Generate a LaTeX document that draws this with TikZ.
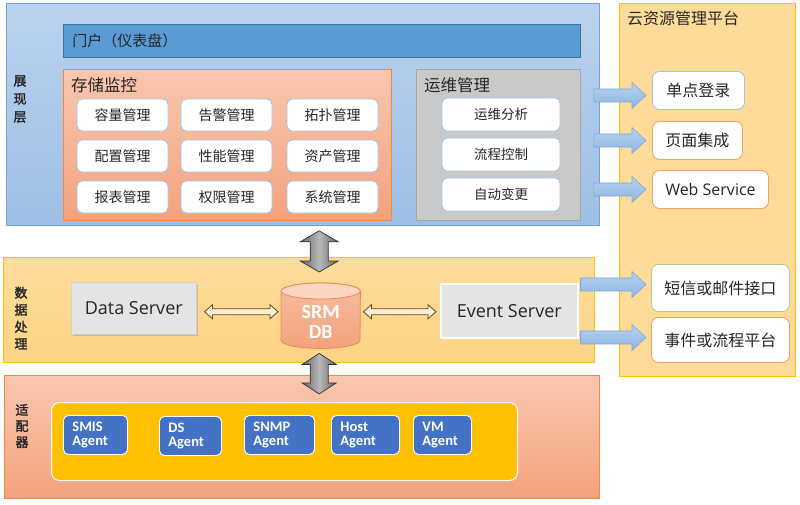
\documentclass[tikz,border=0pt]{standalone}
\usepackage{fontspec}
\setmainfont{Noto Sans CJK SC}
\newfontfamily\cjkbold[FakeBold=2]{Noto Sans CJK SC}
\newfontfamily\latinfont{Open Sans}
\newfontfamily\calfont{Carlito}
\usetikzlibrary{arrows.meta,calc,shadows}

\definecolor{txt}{HTML}{262626}
\definecolor{topA}{HTML}{BAD2ED}
\definecolor{topB}{HTML}{9EBFE6}
\definecolor{topBorder}{HTML}{6FA3DB}
\definecolor{portal}{HTML}{5B9BD5}
\definecolor{portalB}{HTML}{41719C}
\definecolor{salA}{HTML}{F8C7AF}
\definecolor{salB}{HTML}{F4A27D}
\definecolor{salBorder}{HTML}{F08A4B}
\definecolor{grayBox}{HTML}{C9C9C9}
\definecolor{grayBorder}{HTML}{A6A6A6}
\definecolor{yelA}{HTML}{FEDC9B}
\definecolor{yelB}{HTML}{FDD485}
\definecolor{yelBorder}{HTML}{FFC000}
\definecolor{agentBlue}{HTML}{4472C4}
\definecolor{innerBorder}{HTML}{9DC3E6}
\definecolor{orangeBorder}{HTML}{F4A06A}
\definecolor{greenBorder}{HTML}{A9D18E}
\definecolor{serverFill}{HTML}{E4E4E4}
\definecolor{arrowBlueA}{HTML}{B7D2EF}
\definecolor{arrowBlueB}{HTML}{8FB6E3}
\definecolor{arrowBlueBorder}{HTML}{7AA7DA}
\definecolor{brownArrow}{HTML}{5E4B1E}

\newcommand{\fsz}[1]{\fontsize{#1}{#1}\selectfont}

\tikzset{
  every node/.style={inner sep=0pt, text=txt},
  region/.style={draw, line width=0.8pt, anchor=north west},
  toplayer/.style={region, draw=topBorder, top color=topA, bottom color=topB},
  midlayer/.style={region, draw=yelBorder, top color=yelA, bottom color=yelB},
  botlayer/.style={region, draw=salBorder, top color=salA, bottom color=salB},
  sidelabel/.style={font=\cjkbold\fontsize{13}{18}\selectfont, align=center},
  portalbar/.style={region, draw=portalB, fill=portal, minimum width=517pt, minimum height=33pt,
     text width=499pt, inner xsep=9pt, align=left, font=\fsz{15}},
  salbox/.style={region, draw=salBorder, top color=salA, bottom color=salB},
  graybox/.style={region, draw=grayBorder, fill=grayBox},
  boxtitle/.style={anchor=west, font=\fsz{16.5}},
  smallbox/.style={draw=innerBorder, line width=0.9pt, fill=white, rounded corners=5pt,
     minimum width=91pt, minimum height=32pt, font=\fsz{14}},
  opsbox/.style={draw=innerBorder, line width=0.9pt, fill=white, rounded corners=5pt,
     minimum width=118pt, minimum height=33pt, font=\fsz{13.5}},
  platbox/.style={line width=0.9pt, fill=white, rounded corners=7pt, anchor=north west, font=\fsz{16}},
  server/.style={anchor=north west, fill=serverFill, font=\latinfont\fsz{18}},
  agent/.style={anchor=north west, draw=white, line width=0.9pt, fill=agentBlue, rounded corners=5pt,
     minimum height=39pt, inner xsep=9pt, align=left, text=white,
     font=\calfont\bfseries\fontsize{14.5}{14.5}\selectfont},
  bluearrow/.style={draw=arrowBlueBorder, line width=0.6pt, top color=arrowBlueA, bottom color=arrowBlueB},
  grayarrow/.style={draw=black!80, line width=0.7pt, left color=black!60, right color=black!60, middle color=black!28},
  hollowarrow/.style={draw=brownArrow, line width=0.8pt, fill=yelA!45!white, line join=miter},
}

% horizontal fat arrow: #1 start (left), #2 tip (same y)
\newcommand{\harrow}[2]{%
  \draw[bluearrow] ($(#1)+(0,-6.5)$) -- ($(#2)+(-14,-6.5)$) -- ($(#2)+(-14,-13)$) -- (#2)
     -- ($(#2)+(-14,13)$) -- ($(#2)+(-14,6.5)$) -- ($(#1)+(0,6.5)$) -- cycle;}
% vertical fat double arrow: #1 top tip, #2 bottom tip, #3 head half width
\newcommand{\vdarrow}[3]{%
  \draw[grayarrow] (#1) -- ($(#1)+(#3,11)$) -- ($(#1)+(9,11)$) -- ($(#2)+(9,-11)$) -- ($(#2)+(#3,-11)$)
     -- (#2) -- ($(#2)+(-#3,-11)$) -- ($(#2)+(-9,-11)$) -- ($(#1)+(-9,11)$) -- ($(#1)+(-#3,11)$) -- cycle;}
% horizontal hollow double arrow: #1 left tip, #2 right tip
\newcommand{\hdarrow}[2]{%
  \draw[hollowarrow] (#1) -- ($(#1)+(8,-7)$) -- ($(#1)+(8,-3)$) -- ($(#2)+(-8,-3)$) -- ($(#2)+(-8,-7)$)
     -- (#2) -- ($(#2)+(-8,7)$) -- ($(#2)+(-8,3)$) -- ($(#1)+(8,3)$) -- ($(#1)+(8,7)$) -- cycle;}

\begin{document}
\begin{tikzpicture}[x=1pt,y=-1pt]
\useasboundingbox (0,0) rectangle (800,504);
\fill[white] (0,0) rectangle (800,504);

% ---------- right platform panel ----------
\node[region, draw=yelBorder, fill=yelA!90!yelB, minimum width=176pt, minimum height=373pt] (plat) at (619,3) {};
\node[anchor=west, font=\fsz{16}] (platTitle) at (627,18) {云资源管理平台};
\node[platbox, draw=innerBorder, minimum width=92pt, minimum height=38pt] (sso) at (652,71) {单点登录};
\node[platbox, draw=orangeBorder, minimum width=90pt, minimum height=38pt] (page) at (652,121) {页面集成};
\node[platbox, draw=orangeBorder, minimum width=116pt, minimum height=38pt, font=\latinfont\fsz{16}] (ws) at (652,170) {Web Service};
\node[platbox, draw=greenBorder, minimum width=138pt, minimum height=47pt] (sms) at (651,264) {短信或邮件接口};
\node[platbox, draw=orangeBorder, minimum width=138pt, minimum height=45pt] (evtp) at (651,317) {事件或流程平台};

% ---------- presentation layer ----------
\node[toplayer, minimum width=593pt, minimum height=222pt] (pres) at (6,3) {};
\node[sidelabel] (presLbl) at (20,99) {展\\现\\层};
\node[portalbar] (portal) at (63,24) {门户（仪表盘）};

\node[salbox, minimum width=328pt, minimum height=151pt] (store) at (63,69) {};
\node[boxtitle] (storeTitle) at (71,85) {存储监控};
\node[smallbox] (s11) at (122.5,115) {容量管理};
\node[smallbox] (s12) at (226.5,115) {告警管理};
\node[smallbox] (s13) at (332.5,115) {拓扑管理};
\node[smallbox] (s21) at (122.5,156) {配置管理};
\node[smallbox] (s22) at (226.5,156) {性能管理};
\node[smallbox] (s23) at (332.5,156) {资产管理};
\node[smallbox] (s31) at (122.5,197) {报表管理};
\node[smallbox] (s32) at (226.5,197) {权限管理};
\node[smallbox] (s33) at (332.5,197) {系统管理};

\node[graybox, minimum width=164pt, minimum height=151pt] (ops) at (416,69) {};
\node[boxtitle] (opsTitle) at (424,85) {运维管理};
\node[opsbox] (o1) at (501,114.5) {运维分析};
\node[opsbox] (o2) at (501,154.5) {流程控制};
\node[opsbox] (o3) at (501,194.5) {自动变更};

% ---------- data processing layer ----------
\node[midlayer, minimum width=591pt, minimum height=105pt] (mid) at (3,257) {};
\node[sidelabel, font=\cjkbold\fontsize{13}{17}\selectfont] (midLbl) at (21,318) {数\\据\\处\\理};
\node[server, draw=black!18, line width=0.5pt, minimum width=125pt, minimum height=52pt,
      drop shadow={shadow xshift=2pt, shadow yshift=-2pt, opacity=0.35}] (ds) at (71,282) {Data Server};
\node[server, draw=white, line width=1.5pt, minimum width=137pt, minimum height=54pt] (es) at (440,283) {Event Server};

% SRM DB cylinder
\node[minimum width=79pt, minimum height=65pt, anchor=north west] (db) at (281,283) {};
\draw[draw=salBorder, line width=0.8pt, top color=salA!70!salB, bottom color=salB]
  ($(db.north west)+(0,8)$) -- ($(db.south west)+(0,-8)$) arc[start angle=180, end angle=0, x radius=39.5, y radius=8]
  -- ($(db.north east)+(0,8)$) arc[start angle=0, end angle=-180, x radius=39.5, y radius=8] -- cycle;
\draw[draw=salBorder, line width=0.8pt, fill=salA!75!white] ($(db.north)+(0,8)$) ellipse[x radius=39.5, y radius=8];
\node[font=\calfont\bfseries\fontsize{20}{20}\selectfont, text=white, align=center] (dbTxt) at ($(db.center)+(0,6.5)$) {SRM\\DB};

% ---------- adapter layer ----------
\node[botlayer, minimum width=595pt, minimum height=123pt] (adapt) at (4,375) {};
\node[sidelabel, font=\cjkbold\fontsize{13}{16}\selectfont] (adaptLbl) at (22,426) {适\\配\\器};
\node[region, draw=white, line width=1pt, fill=yelBorder, rounded corners=8pt, minimum width=466pt, minimum height=78pt] (agents) at (51,402) {};
\node[agent, minimum width=64pt, text width=46pt] (smis) at (63,415) {SMIS\\Agent};
\node[agent, minimum width=62pt, text width=44pt] (dsa) at (159,416) {DS\\Agent};
\node[agent, minimum width=70pt, text width=52pt] (snmp) at (244,415) {SNMP\\Agent};
\node[agent, minimum width=68pt, text width=50pt] (host) at (331,415) {Host\\Agent};
\node[agent, minimum width=58pt, text width=40pt] (vm) at (413,415) {VM\\Agent};

% ---------- connectors ----------
% gray vertical double arrows
\coordinate (g1t) at ($(db.north |- pres.south)+(-1.5,5)$);
\coordinate (g1b) at ($(db.north)+(-1.5,-11)$);
\vdarrow{g1t}{g1b}{19}
\coordinate (g2t) at ($(db.south)+(-1.5,5)$);
\coordinate (g2b) at ($(db.south |- adapt.north)+(-1.5,19)$);
\vdarrow{g2t}{g2b}{17}

% hollow double arrows
\coordinate (h1s) at ($(ds.east)+(8,3.5)$);
\coordinate (h1e) at ($(db.west |- h1s)+(-3,0)$);
\hdarrow{h1s}{h1e}
\coordinate (h2s) at ($(db.east |- h1s)+(3,0)$);
\coordinate (h2e) at ($(es.west |- h1s)+(-4,0)$);
\hdarrow{h2s}{h2e}

% blue arrows to platform
\coordinate (b1s) at ($(pres.east |- sso.center)+(-6,5)$);
\coordinate (b1e) at ($(sso.west |- b1s)+(-6,0)$);
\harrow{b1s}{b1e}
\coordinate (b2s) at ($(pres.east |- page.center)+(-6,0)$);
\coordinate (b2e) at ($(page.west)+(-6,0)$);
\harrow{b2s}{b2e}
\coordinate (b3s) at ($(pres.east |- ws.center)+(-6,0)$);
\coordinate (b3e) at ($(ws.west)+(-6,0)$);
\harrow{b3s}{b3e}
\coordinate (b4s) at ($(es.east |- sms.center)+(2,-3.5)$);
\coordinate (b4e) at ($(sms.west |- b4s)+(-5,0)$);
\harrow{b4s}{b4e}
\coordinate (b5s) at ($(es.east |- evtp.center)+(2,-2.5)$);
\coordinate (b5e) at ($(evtp.west |- b5s)+(-5,0)$);
\harrow{b5s}{b5e}
\end{tikzpicture}
\end{document}
